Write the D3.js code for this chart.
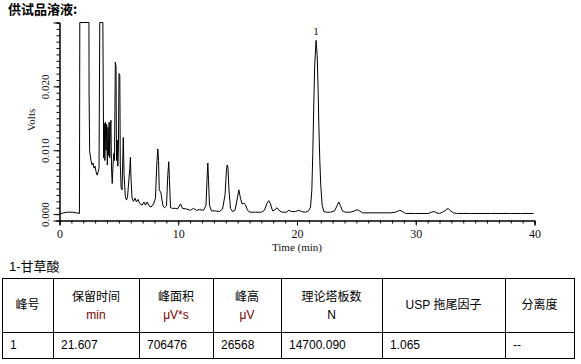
<!DOCTYPE html>
<html>
<head>
<meta charset="utf-8">
<script src="https://cdn.jsdelivr.net/npm/d3@7"></script>
<style>
  body { margin: 0; background: #fff; }
  svg { display: block; }
</style>
</head>
<body>
<svg id="chart"></svg>
<script>
// 色谱图数据 (min, V)
const times = [0.00,0.34,0.67,1.09,1.43,1.68,1.71,2.48,2.49,2.54,2.65,2.74,2.82,2.91,2.99,3.07,3.17,3.27,3.33,3.39,
  3.65,3.67,3.72,3.77,3.82,3.87,3.92,3.97,4.03,4.08,4.13,4.18,4.23,4.28,4.33,4.38,4.44,4.51,4.57,4.63,
  4.70,4.76,4.80,4.86,4.91,4.96,5.01,5.08,5.12,5.19,5.27,5.37,5.44,5.54,5.64,5.73,5.92,5.97,6.02,6.11,
  6.23,6.36,6.48,6.61,6.74,6.95,7.12,7.24,7.38,7.54,7.71,7.92,8.08,8.19,8.28,8.34,8.40,8.47,8.55,8.63,
  8.72,8.84,9.01,9.12,9.20,9.26,9.35,9.52,9.77,9.94,10.19,10.36,10.69,11.03,11.28,11.54,11.79,12.13,12.34,12.42,
  12.49,12.55,12.63,12.80,13.14,13.47,13.73,13.94,14.06,14.12,14.19,14.27,14.40,14.57,14.78,14.95,15.10,15.24,15.37,15.54,
  15.66,15.83,16.04,16.51,17.01,17.26,17.47,17.62,17.77,17.94,18.15,18.32,18.53,18.78,19.12,19.31,19.54,19.87,20.15,20.38,
  20.72,20.97,21.14,21.25,21.33,21.42,21.49,21.607,21.70,21.78,21.84,21.92,22.00,22.12,22.26,22.48,22.82,23.16,23.37,23.52,
  23.66,23.83,24.08,24.51,24.84,25.07,25.26,25.52,26.19,27.03,27.87,28.29,28.65,28.88,29.14,29.98,31.07,31.33,31.54,31.75,
  32.00,32.25,32.51,32.73,32.93,33.18,33.52,34.61,36.29,37.98,38.82,39.92];
const volts = [0.0000,0.0002,0.0003,0.0003,0.0002,0.0001,0.0450,0.0450,0.0188,0.0098,0.0084,0.0077,0.0080,0.0072,0.0075,0.0067,0.0061,0.0067,0.0072,0.0450,
  0.0450,0.0239,0.0088,0.0142,0.0084,0.0144,0.0100,0.0141,0.0077,0.0136,0.0092,0.0144,0.0088,0.0131,0.0147,0.0072,0.0048,0.0077,0.0095,0.0084,
  0.0238,0.0231,0.0084,0.0116,0.0075,0.0100,0.0220,0.0217,0.0077,0.0041,0.0038,0.0120,0.0061,0.0028,0.0022,0.0027,0.0072,0.0089,0.0056,0.0025,
  0.0020,0.0025,0.0019,0.0023,0.0017,0.0014,0.0019,0.0014,0.0019,0.0013,0.0011,0.0016,0.0025,0.0077,0.0102,0.0084,0.0038,0.0036,0.0033,0.0022,
  0.0013,0.0010,0.0013,0.0061,0.0082,0.0053,0.0010,0.0009,0.0009,0.0008,0.0016,0.0009,0.0008,0.0006,0.0009,0.0006,0.0007,0.0006,0.0014,0.0053,
  0.0080,0.0053,0.0014,0.0005,0.0005,0.0004,0.0008,0.0030,0.0069,0.0077,0.0072,0.0038,0.0009,0.0004,0.0006,0.0022,0.0038,0.0025,0.0016,0.0017,
  0.0015,0.0006,0.0003,0.0003,0.0003,0.0006,0.0017,0.0021,0.0016,0.0005,0.0007,0.0010,0.0005,0.0003,0.0003,0.0006,0.0004,0.0004,0.0006,0.0004,
  0.0003,0.0005,0.0011,0.0038,0.0095,0.0178,0.0233,0.0272,0.0248,0.0194,0.0139,0.0084,0.0045,0.0014,0.0004,0.0003,0.0003,0.0005,0.0013,0.0019,
  0.0013,0.0005,0.0003,0.0003,0.0005,0.0007,0.0005,0.0002,0.0002,0.0002,0.0002,0.0003,0.0006,0.0004,0.0001,0.0001,0.0001,0.0003,0.0004,0.0002,
  0.0001,0.0003,0.0006,0.0009,0.0005,0.0002,0.0001,0.0001,0.0001,0.0001,0.0001,0.0001];

// 峰标记
const peakLabels = ["1"];
const peakTimes = [21.607];
const peakHeights = [0.0272];

// 坐标刻度
const xMajor = [0, 10, 20, 30, 40];
const yMajor = [0.000, 0.010, 0.020];

// 结果表
const tableName = "1-甘草酸";
const headTop = ["峰号", "保留时间", "峰面积", "峰高", "理论塔板数", "USP 拖尾因子", "分离度"];
const headUnit = ["", "min", "μV*s", "μV", "N", "", ""];
const rowValues = ["1", "21.607", "706476", "26568", "14700.090", "1.065", "--"];

const W = 581, H = 364;
const svg = d3.select("#chart").attr("width", W).attr("height", H);
svg.append("rect").attr("width", W).attr("height", H).attr("fill", "#fff");

// 标题
svg.append("text").attr("x", 8).attr("y", 14)
  .attr("font-family", "'Noto Sans CJK SC', sans-serif")
  .attr("font-weight", "bold").attr("font-size", 13)
  .text("供试品溶液:");

let x = d3.scaleLinear().domain([0, 40]).range([59.5, 534.5]);
let y = d3.scaleLinear().domain([-0.001, 0.030]).range([220.5, 22.5]).clamp(true);

const axisFont = "'Liberation Serif', 'Times New Roman', serif";

// x 轴
let gx = svg.append("g").attr("transform", "translate(0,220.5)");
gx.call(d3.axisBottom(x).ticks(40).tickSize(3).tickFormat(""));
let gxMaj = svg.append("g").attr("transform", "translate(0,220.5)");
gxMaj.call(d3.axisBottom(x).tickValues(xMajor).tickSize(5).tickFormat(d3.format("d")));
[gx, gxMaj].forEach(g => {
  g.select(".domain").attr("stroke", "#000");
  g.selectAll(".tick line").attr("stroke", "#000");
});
gxMaj.selectAll(".tick text")
  .attr("y", 17.5).attr("dy", null)
  .attr("font-family", axisFont).attr("font-size", 12).attr("fill", "#111");

svg.append("text").attr("x", 297).attr("y", 251)
  .attr("text-anchor", "middle")
  .attr("font-family", axisFont).attr("font-size", 11).attr("fill", "#111")
  .text("Time (min)");

// y 轴
let gy = svg.append("g").attr("transform", "translate(59.5,0)");
gy.call(d3.axisLeft(y).tickValues(d3.range(-1, 31).map(d => d / 1000)).tickSize(3).tickFormat(""));
let gyMaj = svg.append("g").attr("transform", "translate(59.5,0)");
gyMaj.call(d3.axisLeft(y).tickValues(yMajor).tickSize(6).tickFormat(d3.format(".3f")));
[gy, gyMaj].forEach(g => {
  g.select(".domain").attr("stroke", "#000");
  g.selectAll(".tick line").attr("stroke", "#000");
});
gyMaj.selectAll(".tick text")
  .attr("transform", "rotate(-90)")
  .attr("x", 0).attr("y", -11).attr("dy", null)
  .attr("text-anchor", "middle")
  .attr("font-family", axisFont).attr("font-size", 11).attr("fill", "#111");

svg.append("text")
  .attr("transform", "translate(35,120) rotate(-90)")
  .attr("text-anchor", "middle")
  .attr("font-family", axisFont).attr("font-size", 11).attr("fill", "#111")
  .text("Volts");

// 色谱曲线
let line = d3.line().x(d => x(d[0])).y(d => y(d[1]));
svg.append("path")
  .datum(d3.zip(times, volts))
  .attr("d", line)
  .attr("fill", "none")
  .attr("stroke", "#000")
  .attr("stroke-width", 1);

svg.selectAll(".peak-label")
  .data(peakLabels)
  .enter().append("text")
  .attr("class", "peak-label")
  .attr("x", (d, i) => x(peakTimes[i]))
  .attr("y", (d, i) => y(peakHeights[i]) - 5)
  .attr("text-anchor", "middle")
  .attr("font-family", axisFont).attr("font-size", 11).attr("fill", "#111")
  .text(d => d);

// 结果表
const tableFont = "'Liberation Sans', Arial, 'Noto Sans CJK SC', sans-serif";
svg.append("text").attr("x", 9).attr("y", 271)
  .attr("font-family", tableFont).attr("font-size", 13)
  .text(tableName);

const colX = [2, 53, 139, 213, 281, 382, 505, 574];
const rowY = [278, 332, 358];
let tbl = svg.append("g").attr("stroke", "#000").attr("stroke-width", 1);
rowY.forEach(r => tbl.append("line").attr("x1", colX[0]).attr("x2", colX[colX.length - 1])
  .attr("y1", r + 0.5).attr("y2", r + 0.5));
colX.forEach(c => tbl.append("line").attr("x1", c + 0.5).attr("x2", c + 0.5)
  .attr("y1", rowY[0]).attr("y2", rowY[2] + 1));

headTop.forEach((h, i) => {
  let cx = (colX[i] + colX[i + 1]) / 2;
  let two = headUnit[i] !== "";
  svg.append("text").attr("x", cx).attr("y", two ? 300.5 : 308.5)
    .attr("text-anchor", "middle")
    .attr("font-family", tableFont).attr("font-size", 12).attr("fill", "#000")
    .text(h);
  if (two) {
    svg.append("text").attr("x", cx).attr("y", 318.5)
      .attr("text-anchor", "middle")
      .attr("font-family", tableFont).attr("font-size", 12)
      .attr("fill", headUnit[i] === "N" ? "#000" : "#800000")
      .text(headUnit[i]);
  }
});

rowValues.forEach((v, i) => {
  svg.append("text").attr("x", colX[i] + 8).attr("y", 349)
    .attr("font-family", tableFont).attr("font-size", 12).attr("fill", "#000")
    .text(v);
});
</script>
</body>
</html>
